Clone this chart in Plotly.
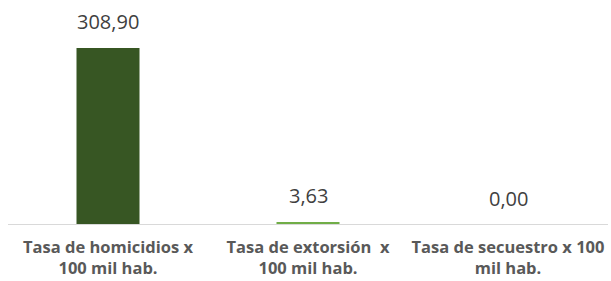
import plotly.graph_objects as go

categories = ["Tasa de homicidios x<br>100 mil hab.",
              "Tasa de extorsión  x<br>100 mil hab.",
              "Tasa de secuestro x 100<br>mil hab."]
values = [308.90, 3.63, 0.00]
value_labels = ["308,90", "3,63", "0,00"]
colors = ["#375623", "#70AD47", "#A9D18E"]

fig = go.Figure()
fig.add_trace(go.Bar(x=categories, y=values, marker=dict(color=colors, line=dict(width=0)),
                     hoverinfo="skip"))
for c, v, t in zip(categories, values, value_labels):
    fig.add_annotation(x=c, y=v, text=t, showarrow=False, yanchor="middle", yshift=26,
                       font=dict(family="Open Sans, Noto Sans, sans-serif", size=20, color="#404040"))

fig.update_layout(
    width=611, height=281,
    margin=dict(l=8, r=3, t=24, b=57, autoexpand=False),
    paper_bgcolor="white", plot_bgcolor="white",
    bargap=0.685, showlegend=False,
    xaxis=dict(showline=True, linecolor="#D9D9D9", linewidth=1, ticks="", automargin=False,
               ticklabelstandoff=8,
               tickfont=dict(family="Open Sans, Noto Sans, sans-serif", size=16.5, color="#595959",
                             weight="bold")),
    yaxis=dict(range=[0, 351], visible=False, showgrid=False, zeroline=False),
)
fig.write_html("out.html", config={"displayModeBar": False},
               post_script="document.body.style.margin='0';document.body.style.overflow='hidden';")
